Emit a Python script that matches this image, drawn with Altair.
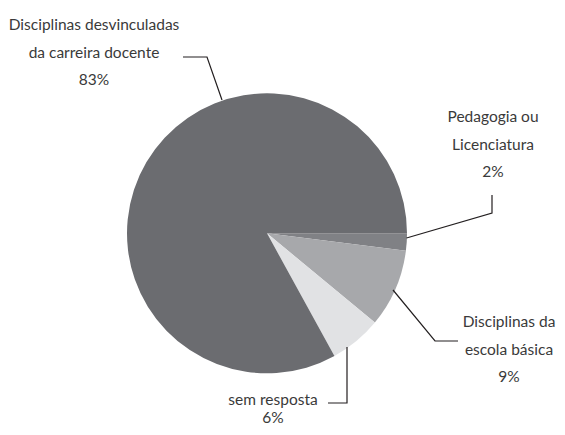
import altair as alt
import pandas as pd
import math

# Slice data (clockwise from 3 o'clock)
categories = ["Pedagogia ou\nLicenciatura", "Disciplinas da\nescola básica", "sem resposta",
              "Disciplinas desvinculadas\nda carreira docente"]
values = [2, 9, 6, 83]
slice_order = [1, 2, 3, 4]
colors = ["#808185", "#a7a8ab", "#e1e2e4", "#6b6c70"]

# Label layout (image pixel coordinates: centre x, first line y, line gap)
label_x = [493, 509, 273, 94]
label_y = [117, 322, 400, 25]
label_gap = [27.5, 27.5, 18, 27.5]

# Leader lines (image pixel coordinates), one polyline per slice
leader_x = [[406.5, 492, 492], [393, 435, 458], [347, 347, 328], [222, 207, 183]]
leader_y = [[238, 213, 195], [290, 341, 341], [347, 403, 403], [100, 57, 57]]

W, H = 549, 419
OFF = 8
cx, cy, R = 267, 233.3, 140

pie_df = pd.DataFrame({"cat": categories, "value": values, "order": slice_order})

text_rows = []
for c, v, lx, ly, g in zip(categories, values, label_x, label_y, label_gap):
    lines = c.split("\n") + [f"{v}%"]
    for i, t in enumerate(lines):
        text_rows.append({"t": t, "x": lx, "y": ly + i * g})
text_df = pd.DataFrame(text_rows)

lead_rows = []
for k, (xs, ys) in enumerate(zip(leader_x, leader_y)):
    for i, (x, y) in enumerate(zip(xs, ys)):
        lead_rows.append({"g": k, "i": i, "x": x, "y": y})
lead_df = pd.DataFrame(lead_rows)

xs = alt.Scale(domain=[OFF, OFF + W], range=[0, W])
ys = alt.Scale(domain=[OFF, OFF + H], range=[0, H])

pie = alt.Chart(pie_df).mark_arc(radius=R, stroke=None).encode(
    theta=alt.Theta("value:Q", stack=True,
                    scale=alt.Scale(range=[math.pi / 2, math.pi / 2 + 2 * math.pi])),
    order=alt.Order("order:Q"),
    color=alt.Color("cat:N", scale=alt.Scale(domain=categories, range=colors), legend=None),
    x=alt.value(cx - OFF),
    y=alt.value(cy - OFF),
)

leaders = alt.Chart(lead_df).mark_line(color="#231f20", strokeWidth=1.2).encode(
    x=alt.X("x:Q", scale=xs, axis=None),
    y=alt.Y("y:Q", scale=ys, axis=None),
    detail="g:N",
    order="i:Q",
)

labels = alt.Chart(text_df).mark_text(
    font="Lato", fontSize=15.5, color="#3a3a3a",
    align="center", baseline="middle"
).encode(
    x=alt.X("x:Q", scale=xs, axis=None),
    y=alt.Y("y:Q", scale=ys, axis=None),
    text="t:N",
)

chart = alt.layer(pie, leaders, labels).properties(
    width=W, height=H, padding=0, autosize=alt.AutoSizeParams(type="none")
).configure_view(stroke=None)

chart.save("out.html", embed_options={"renderer": "svg", "actions": False})
